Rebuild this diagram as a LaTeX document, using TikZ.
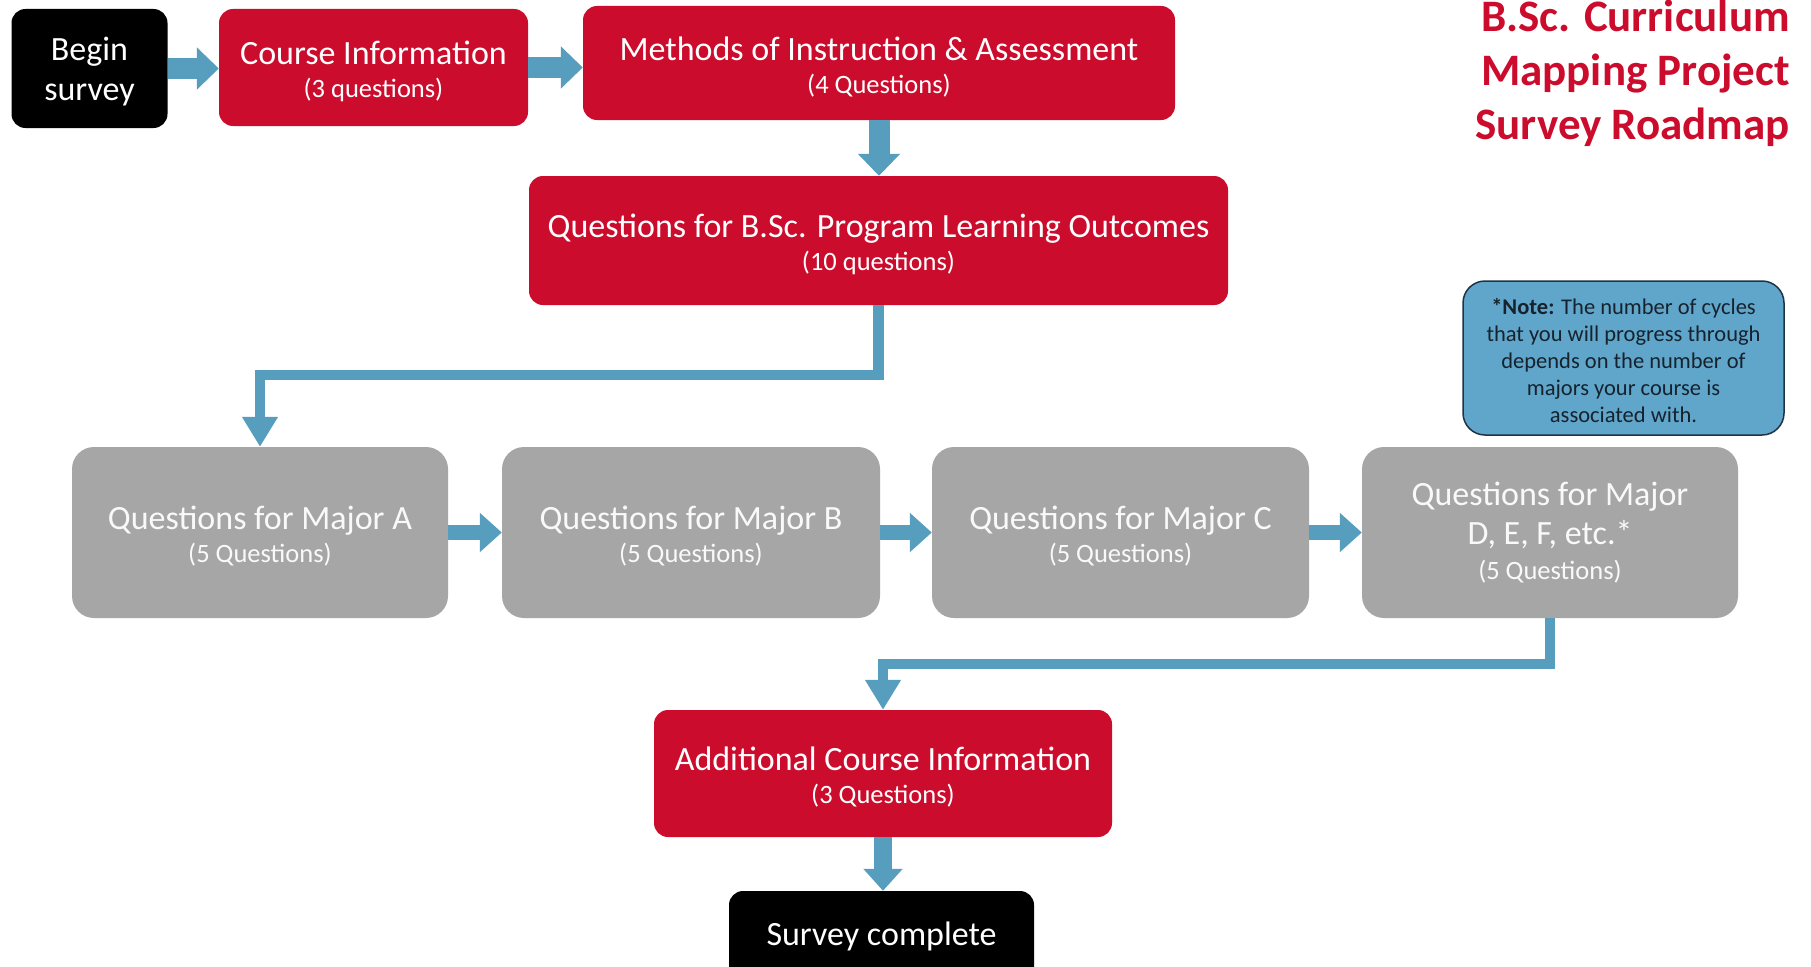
\documentclass[tikz,border=0pt]{standalone}
\usepackage{fontspec}
\setmainfont{Carlito}
\usetikzlibrary{arrows.meta}
\definecolor{ured}{RGB}{204,12,45}
\definecolor{ugray}{RGB}{166,166,166}
\definecolor{ublue}{RGB}{86,157,190}
\definecolor{notefill}{RGB}{96,166,202}
\definecolor{notedraw}{RGB}{30,52,70}
\definecolor{notetext}{RGB}{22,34,46}
\newcommand{\subsz}{\fontsize{26.5}{34}\selectfont}
% tall strut on a heading line: lowers the text block inside its box
\newcommand{\hd}{\rule{0pt}{31pt}}
\tikzset{
  box/.style={align=center, inner sep=0pt, font=\fontsize{34}{40}\selectfont},
  redbox/.style={box, fill=ured, text=white, rounded corners=14pt},
  blackbox/.style={box, fill=black, text=white, rounded corners=14pt},
  graybox/.style={box, fill=ugray, text=white!95!gray, rounded corners=22pt},
  notebox/.style={fill=notefill, draw=notedraw, line width=1.5pt, rounded corners=22pt,
    text=notetext, align=center, inner sep=0pt, font=\fontsize{22.5}{27}\selectfont},
  bigarrow/.style={draw=ublue, line width=21pt, -{Triangle[length=22pt,width=41pt]}},
  midarrow/.style={draw=ublue, line width=15pt, -{Triangle[length=22pt,width=38pt]}},
  elbow/.style={draw=ublue, line width=10.5pt, -{Triangle[length=30pt,width=34pt]}},
}
\begin{document}
\begin{tikzpicture}[x=1pt,y=-1pt]
  \useasboundingbox[fill=white] (0,0) rectangle (1811,966);

  % top row
  \node[blackbox, minimum width=156pt, minimum height=119pt] (begin) at (89.5,68.5)
    {\rule{0pt}{30pt}Begin\\ survey};
  \node[redbox, minimum width=309pt, minimum height=117pt] (course) at (373.5,67.5)
    {\hd Course Information\\[-7pt] \subsz (3 questions)};
  \node[redbox, minimum width=592pt, minimum height=114pt] (methods) at (879,63)
    {\hd Methods of Instruction \& Assessment\\[-7pt] \subsz (4 Questions)};

  % programme outcomes
  \node[redbox, minimum width=699pt, minimum height=129pt] (plo) at (878.5,240.5)
    {\hd Questions for B.Sc. Program Learning Outcomes\\[-7pt] \subsz (10 questions)};

  % major cycles
  \node[graybox, minimum width=376pt, minimum height=171pt] (majA) at (260,532.5)
    {\hd Questions for Major A\\[-7pt] \subsz (5 Questions)};
  \node[graybox, minimum width=378pt, minimum height=171pt] (majB) at (691,532.5)
    {\hd Questions for Major B\\[-7pt] \subsz (5 Questions)};
  \node[graybox, minimum width=377pt, minimum height=171pt] (majC) at (1120.5,532.5)
    {\hd Questions for Major C\\[-7pt] \subsz (5 Questions)};
  \node[graybox, minimum width=376pt, minimum height=171pt] (majD) at (1550,532.5)
    {Questions for Major\\[-1pt] D, E, F, etc.*\\[-5pt] \subsz (5 Questions)};

  % closing steps
  \node[redbox, minimum width=458pt, minimum height=127pt] (add) at (883,773.5)
    {\hd Additional Course Information\\[-7pt] \subsz (3 Questions)};
  \node[blackbox, minimum width=305pt, minimum height=90pt] (done) at (881.5,936)
    {Survey complete};

  % note and title
  \node[notebox, minimum width=321pt, minimum height=154pt] (note) at (1623.5,358)
    {\rule{0pt}{21pt}\textbf{*Note:} The number of cycles\\ that you will progress through\\ depends on the number of\\ majors your course is\\ associated with.};
  \node[anchor=north east, align=right, text=ured, inner sep=0pt,
        font=\bfseries\fontsize{45}{54}\selectfont] (title) at (1790,-0.5)
    {B.Sc. Curriculum\\ Mapping Project\\ Survey Roadmap};

  % connectors
  \draw[bigarrow] (begin.east) -- (begin.east -| course.west);
  \draw[bigarrow] (course.east) -- (course.east -| methods.west);
  \draw[bigarrow] (methods.south) -- (methods.south |- plo.north);
  \draw[elbow] (plo.south) -- ++(0,70) -| (majA.north);
  \draw[midarrow] (majA.east) -- (majB.west);
  \draw[midarrow] (majB.east) -- (majC.west);
  \draw[midarrow] (majC.east) -- (majD.west);
  \draw[elbow] (majD.south) -- ++(0,46) -| (add.north);
  \draw[midarrow, line width=18pt] (add.south) -- (add.south |- done.north);
\end{tikzpicture}
\end{document}
